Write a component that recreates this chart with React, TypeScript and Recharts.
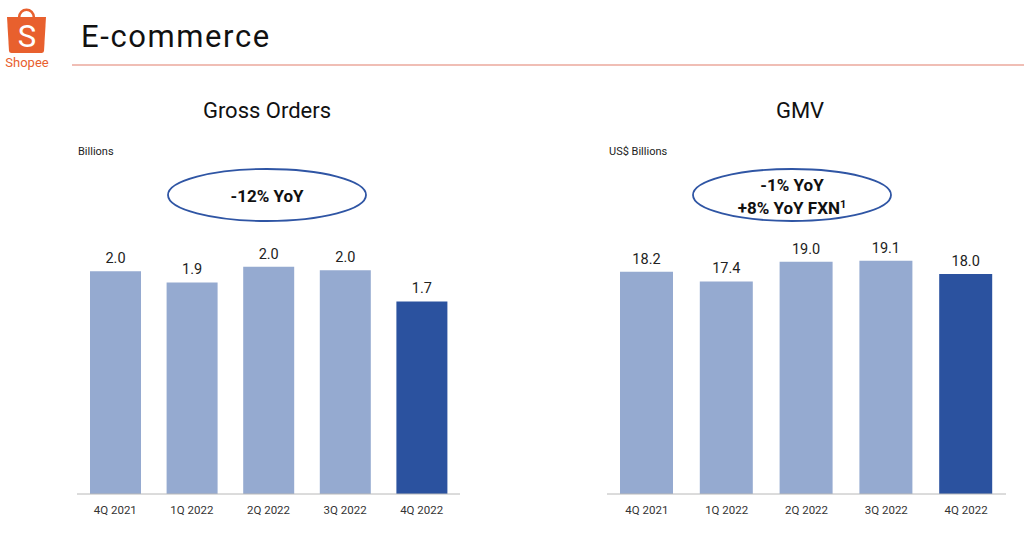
import { Bar, BarChart, Cell, LabelList, XAxis, YAxis } from "recharts";

const quarters = ["4Q 2021", "1Q 2022", "2Q 2022", "3Q 2022", "4Q 2022"];
const grossOrders = [1.99, 1.89, 2.03, 2.0, 1.72];
const gmv = [18.2, 17.4, 19.0, 19.1, 18.0];

const LIGHT = "#95aad0";
const DARK = "#2b529f";
const ORANGE = "#e8602e";
const FONT = "Roboto, 'Noto Sans', sans-serif";

function QuarterChart({ values, left, width, max, barSize, marginRight }: {
  values: number[]; left: number; width: number; max: number; barSize: number; marginRight: number;
}) {
  const data = quarters.map((q, i) => ({ q, v: values[i] }));
  return (
    <div style={{ position: "absolute", left, top: 230 }}>
      <BarChart width={width} height={300} data={data} margin={{ top: 20, right: marginRight, bottom: 6, left: 17 }} barCategoryGap={0}>
        <XAxis dataKey="q" height={30} tickLine={false} axisLine={{ stroke: "#b8b8b8" }}
          tick={{ fill: "#333", fontSize: 11.5, fontFamily: FONT }} tickMargin={6} />
        <YAxis hide domain={[0, max]} />
        <Bar dataKey="v" barSize={barSize} isAnimationActive={false}>
          {data.map((_, i) => <Cell key={i} fill={i === data.length - 1 ? DARK : LIGHT} />)}
          <LabelList dataKey="v" position="top" offset={8} formatter={(v: number) => v.toFixed(1)}
            style={{ fill: "#222", fontSize: 14.5, fontFamily: FONT }} />
        </Bar>
      </BarChart>
    </div>
  );
}

export default function App() {
  return (
    <div style={{ position: "absolute", left: 0, top: 0, width: 1024, height: 542, background: "#fff", fontFamily: FONT, overflow: "hidden" }}>
      <svg width={1024} height={542} style={{ position: "absolute", left: 0, top: 0 }}>
        {/* logo */}
        <path d="M19 18 C19 7, 34 7, 34 18" fill="none" stroke={ORANGE} strokeWidth={2.6} />
        <path d="M7 17 L46 17 L44 51 Q43.8 53 41.5 53 L11.5 53 Q9.2 53 9 51 Z" fill={ORANGE} />
        <text x={27} y={47} textAnchor="middle" fill="#fff" fontSize={31} fontFamily={FONT}>S</text>
        <text x={27} y={67} textAnchor="middle" fill={ORANGE} fontSize={13} fontFamily={FONT}>Shopee</text>
        <text x={81} y={47} fill="#111" fontSize={31} letterSpacing={1.6} fontFamily={FONT}>E-commerce</text>
        <line x1={72} y1={65} x2={1024} y2={65} stroke="#eba99c" strokeWidth={1.5} />

        <text x={267} y={118} textAnchor="middle" fill="#111" fontSize={22} fontFamily={FONT}>Gross Orders</text>
        <text x={800} y={118} textAnchor="middle" fill="#111" fontSize={22} fontFamily={FONT}>GMV</text>
        <text x={78} y={155} fill="#222" fontSize={11} fontFamily={FONT}>Billions</text>
        <text x={609} y={155} fill="#222" fontSize={11} fontFamily={FONT}>US$ Billions</text>

        <ellipse cx={267} cy={195} rx={99} ry={26} fill="none" stroke="#2f55a4" strokeWidth={1.8} />
        <text x={267} y={202} textAnchor="middle" fill="#111" fontSize={17} fontWeight="bold" fontFamily={FONT}>-12% YoY</text>
        <ellipse cx={792} cy={195} rx={99} ry={26} fill="none" stroke="#2f55a4" strokeWidth={1.8} />
        <text x={792} y={191} textAnchor="middle" fill="#111" fontSize={17} fontWeight="bold" fontFamily={FONT}>-1% YoY</text>
        <text x={792} y={214} textAnchor="middle" fill="#111" fontSize={17} fontWeight="bold" fontFamily={FONT}>
          +8% YoY FXN<tspan fontSize={11} dy={-6}>1</tspan>
        </text>
      </svg>
      <QuarterChart values={grossOrders} left={60} width={420} max={2.18} barSize={51} marginRight={20} />
      <QuarterChart values={gmv} left={590} width={430} max={19.97} barSize={53} marginRight={14} />
    </div>
  );
}
